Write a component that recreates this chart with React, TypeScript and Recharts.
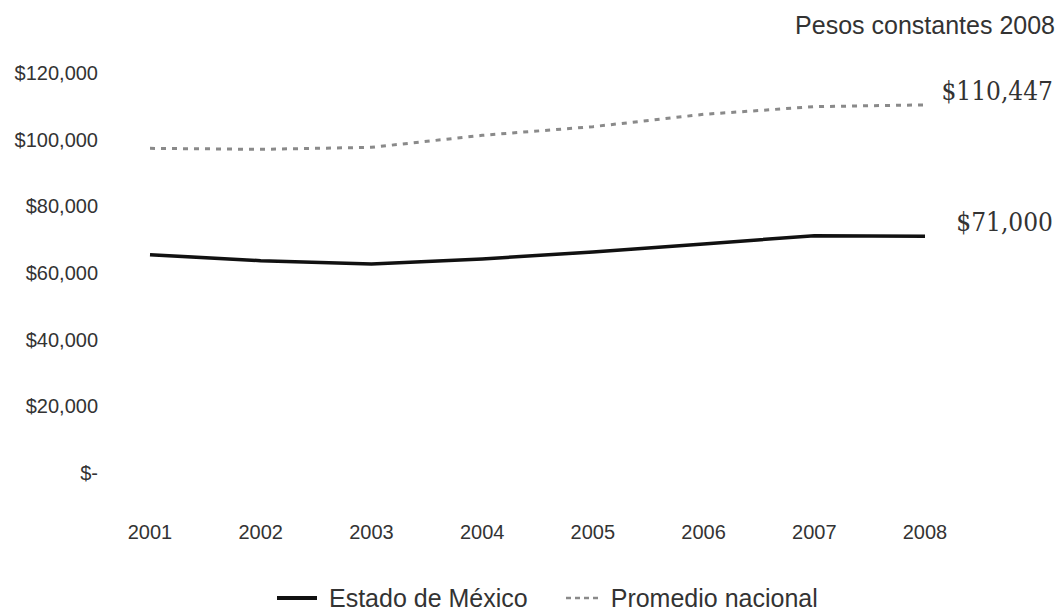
import React from 'react';
import { LineChart, Line, XAxis, YAxis, Legend, LabelList } from 'recharts';

// Years on the horizontal axis
const years = ['2001', '2002', '2003', '2004', '2005', '2006', '2007', '2008'];

// Estado de México, constant 2008 pesos
const estadoMexico = [65500, 63700, 62700, 64200, 66300, 68700, 71200, 71000];

// National average, constant 2008 pesos
const promedioNacional = [97400, 97100, 97700, 101300, 103900, 107600, 109900, 110447];

// Value axis ticks
const yTicks = [0, 20000, 40000, 60000, 80000, 100000, 120000];

const seriesNames = ['Estado de México', 'Promedio nacional'];
const unitNote = 'Pesos constantes 2008';

const data = years.map((year, i) => ({
  year,
  estado: estadoMexico[i],
  promedio: promedioNacional[i],
}));

const SANS = '"Liberation Sans", Arial, sans-serif';
const SERIF = '"DejaVu Serif Condensed", "DejaVu Serif", serif';
const TEXT = '#333333';

const lineStyles: Record<string, { stroke: string; width: number; dash?: string; iconDash?: string; iconWidth: number }> = {
  estado: { stroke: '#111111', width: 3.5, iconWidth: 40 },
  promedio: { stroke: '#8a8a8a', width: 3, dash: '5 6', iconDash: '5 4', iconWidth: 33 },
};

const fmtMoney = (v: number) => (v === 0 ? '$-' : '$' + v.toLocaleString('en-US'));

function YTick(props: any) {
  const { x, y, payload } = props;
  return (
    <text x={x - 52} y={y} textAnchor="end" dominantBaseline="central" fontSize={20} fontFamily={SANS} fill={TEXT}>
      {fmtMoney(payload.value)}
    </text>
  );
}

function XTick(props: any) {
  const { x, y, payload } = props;
  return (
    <text x={x} y={y + 59} textAnchor="middle" dominantBaseline="central" fontSize={20} fontFamily={SANS} fill={TEXT}>
      {payload.value}
    </text>
  );
}

// Value callout next to the last point of each series
function EndLabel(props: any) {
  const { x, y, index, value } = props;
  if (index !== years.length - 1) return null;
  return (
    <text x={x + 128} y={y - 14} textAnchor="end" dominantBaseline="central" fontSize={26} fontFamily={SERIF} fill={TEXT}>
      {fmtMoney(value)}
    </text>
  );
}

function LegendContent(props: any) {
  const { payload = [] } = props;
  return (
    <div style={{ display: 'flex', alignItems: 'center', height: 40, paddingLeft: 277, fontFamily: SANS, fontSize: 25, color: TEXT }}>
      {payload.map((p: any) => {
        const s = lineStyles[p.dataKey as string];
        return (
          <div key={p.dataKey} style={{ display: 'flex', alignItems: 'center', marginRight: 38 }}>
            <svg width={s.iconWidth} height={10}>
              <line x1={0} x2={s.iconWidth} y1={5} y2={5} stroke={s.stroke} strokeWidth={s.iconDash ? 2.5 : 4} strokeDasharray={s.iconDash} />
            </svg>
            <span style={{ marginLeft: 12 }}>{p.value}</span>
          </div>
        );
      })}
    </div>
  );
}

export default function App() {
  return (
    <div style={{ position: 'absolute', left: 0, top: 0, width: 1062, height: 614, background: '#ffffff' }}>
      <div
        style={{
          position: 'absolute',
          right: 7,
          top: 10,
          fontFamily: SANS,
          fontSize: 25,
          color: TEXT,
          lineHeight: '30px',
          whiteSpace: 'nowrap',
        }}
      >
        {unitNote}
      </div>
      <LineChart width={1062} height={614} data={data} margin={{ top: 73, right: 137, bottom: 0, left: 0 }}>
        <XAxis
          dataKey="year"
          axisLine={false}
          tickLine={false}
          tickSize={0}
          tickMargin={0}
          height={101}
          tick={<XTick />}
          interval={0}
        />
        <YAxis
          domain={[0, 120000]}
          ticks={yTicks}
          axisLine={false}
          tickLine={false}
          tickSize={0}
          tickMargin={0}
          width={150}
          tick={<YTick />}
          interval={0}
        />
        <Legend verticalAlign="bottom" content={<LegendContent />} wrapperStyle={{ left: 0, top: 578, width: 1062, height: 40 }} />
        <Line
          dataKey="estado"
          name={seriesNames[0]}
          type="linear"
          stroke={lineStyles.estado.stroke}
          strokeWidth={lineStyles.estado.width}
          dot={false}
          activeDot={false}
          isAnimationActive={false}
        >
          <LabelList dataKey="estado" content={<EndLabel />} />
        </Line>
        <Line
          dataKey="promedio"
          name={seriesNames[1]}
          type="linear"
          stroke={lineStyles.promedio.stroke}
          strokeWidth={lineStyles.promedio.width}
          strokeDasharray={lineStyles.promedio.dash}
          dot={false}
          activeDot={false}
          isAnimationActive={false}
        >
          <LabelList dataKey="promedio" content={<EndLabel />} />
        </Line>
      </LineChart>
    </div>
  );
}
